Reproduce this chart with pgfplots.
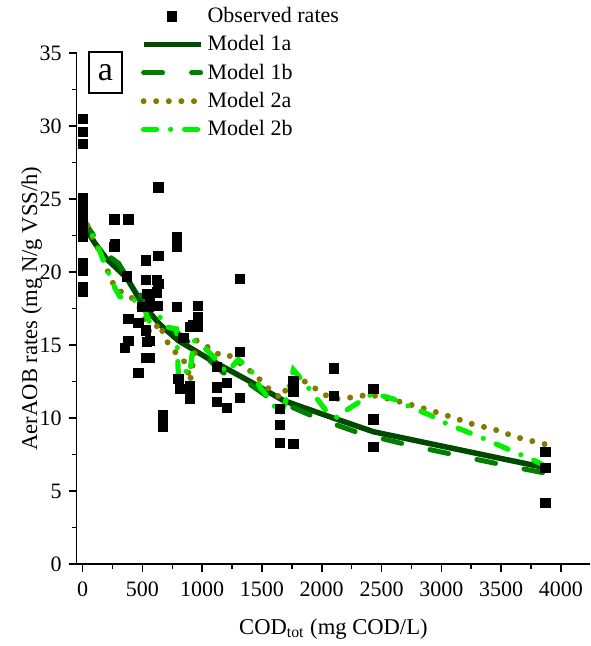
\documentclass[border=0pt]{standalone}
\usepackage{fontspec}
\setmainfont{Liberation Serif}
\usepackage{pgfplots}
\pgfplotsset{compat=1.18}

\definecolor{mOnea}{HTML}{004A00}
\definecolor{mOneb}{HTML}{008000}
\definecolor{mTwoa}{HTML}{857A00}
\definecolor{mTwob}{HTML}{00F000}

\pgfplotsset{
  linelegend/.style={legend image code/.code={\draw[##1] (0pt,0pt) -- (28.5pt,0pt);}},
  marklegend/.style={legend image code/.code={%
    \draw[mark repeat=2,mark phase=2,##1] plot coordinates {(0pt,0pt)(14.25pt,0pt)(28.5pt,0pt)};}},
}

\begin{document}
\begin{tikzpicture}
\begin{axis}[name=ax,
    width=256.7pt, height=255.5pt, scale only axis,
    xmin=-50, xmax=4245, ymin=0, ymax=35,
    axis lines=left, axis line style={-, line width=0.75pt},
    xtick={0,500,...,4000}, ytick={0,5,...,35},
    minor x tick num=1, minor y tick num=1,
    tick align=outside, major tick length=4pt, minor tick length=2.5pt,
    tick style={line width=0.75pt, black},
    scaled ticks=false,
    xticklabel style={/pgf/number format/1000 sep={}, yshift=-1.5pt},
    /pgf/number format/assume math mode=true,
    tick label style={font=\fontsize{11}{13}\selectfont},
    label style={font=\fontsize{11.3}{13}\selectfont},
    xlabel={COD\textsubscript{tot} (mg COD/L)},
    ylabel={AerAOB rates (mg N/g VSS/h)},
    xlabel style={yshift=-4pt},
    ylabel style={yshift=-8pt},
    clip=false,
    legend style={draw=none, fill=none, at={(rel axis cs:0.112,1.106)}, anchor=north west,
      font=\fontsize{11}{13}\selectfont, cells={anchor=west}, row sep=1pt},
    linelegend,
  ]
\addplot[only marks, mark=square*, mark size=2.3pt, black, marklegend]
  coordinates {
  (0,30.5) (0,29.6) (0,28.8) (0,25.05) (0,24.6) (0,24.0) (0,23.5) (0,23.0) (0,22.4)
  (0,20.6) (0,20.1) (0,19.0) (0,18.65)
  (265,23.6) (382,23.6) (265,21.7) (270,21.9) (633,25.8) (786,22.4) (786,21.7)
  (633,21.1) (530,20.8) (368,19.7) (530,19.45) (619,19.45) (633,19.2) (535,18.5)
  (563,18.1) (619,18.6) (494,17.6) (549,17.6) (627,17.7) (786,17.6) (962,17.7)
  (962,16.9) (898,16.25) (962,16.25) (925,16.4) (382,16.8) (466,16.5) (530,16.0)
  (535,15.2) (563,15.3) (382,15.3) (354,14.8) (530,14.1) (563,14.1) (466,13.1)
  (842,15.5) (1316,19.5) (1316,14.5) (1316,11.35) (1121,13.5) (1205,12.4)
  (1121,12.1) (1121,11.1) (1205,10.7) (898,12.2) (898,11.6) (898,11.3) (800,12.7)
  (815,12.0) (669,10.2) (669,9.6) (669,9.4)
  (1652,10.6) (1652,9.5) (1652,8.3) (1763,12.5) (1763,11.8) (1763,8.2)
  (2103,13.4) (2103,11.5) (2432,12.0) (2432,9.9) (2432,8.0)
  (3871,7.7) (3871,6.6) (3871,4.2)
  };
\addlegendentry{Observed rates}
\addplot[mOnea, line width=2.75pt] coordinates {
  (0,23.3) (100,22.0) (200,20.9) (368,19.6) (500,17.8) (647,16.4) (800,15.3)
  (1065,14.0) (1400,12.5) (1679,11.2) (2097,10.0) (2432,9.06) (2962,8.15)
  (3492,7.24) (3870,6.6)
  };
\addlegendentry{Model 1a}
\addplot[mOneb, line width=2.5pt, line cap=round, dash pattern=on 9.5pt off 14.5pt] coordinates {
  (0,23.6) (200,21.2) (300,20.6) (420,19.0) (530,18.0) (650,16.7) (800,15.8)
  (1000,14.4) (1176,13.1) (1400,12.3) (1540,11.5) (1958,10.0) (2321,8.95)
  (2725,8.15) (3116,7.47) (3520,6.78) (3855,6.25)
  };
\addlegendentry{Model 1b}
\addplot[mTwoa, line width=3pt, line cap=round, dash pattern=on 0pt off 6.3pt] coordinates {
  (0,24.0) (75,22.5) (117,21.8) (172,20.9) (200,20.25) (243,19.45) (270,18.9)
  (437,18.1) (494,17.3) (521,16.7) (563,15.8) (647,16.5) (675,15.7) (716,15.1)
  (786,14.4) (870,13.7) (898,12.5) (954,15.3) (1023,15.0) (1121,14.4) (1205,14.4)
  (1358,13.5) (1442,12.95) (1511,12.4) (1581,11.8) (1665,11.35) (1707,12.1)
  (1818,12.7) (1916,12.2) (2000,11.7) (2097,11.3) (2195,11.35) (2293,11.46)
  (2390,11.6) (2488,11.46) (2683,11.05) (2879,10.6) (3073,10.1) (3255,9.6)
  (3450,9.2) (3645,8.65) (3870,8.2)
  };
\addlegendentry{Model 2a}
\addplot[mTwob, line width=2.6pt, line cap=round, dash pattern=on 6.5pt off 7pt on 0pt off 7pt] coordinates {
  (0,24.2) (33,23.2) (89,22.4) (145,21.4) (172,20.8) (243,19.45) (270,18.9)
  (312,18.3) (368,18.2) (466,18.0) (521,17.4) (535,17.05) (563,16.5) (619,16.8)
  (647,16.9) (689,16.25) (786,16.1) (800,13.0) (850,13.5) (880,12.9) (900,13.3)
  (930,15.3) (982,15.1) (1093,14.2) (1205,13.1) (1302,14.0) (1400,13.4)
  (1484,12.1) (1581,11.1) (1651,10.2) (1693,11.0) (1763,13.3) (1846,12.5)
  (1958,11.35) (2055,10.3) (2139,10.0) (2209,10.55) (2306,11.05) (2432,11.7)
  (2599,11.3) (2767,10.65) (2906,10.2) (3046,9.6) (3213,9.06) (3353,8.6)
  (3520,8.0) (3660,7.5) (3743,7.24) (3870,6.7)
  };
\addlegendentry{Model 2b}
\node[draw, line width=0.75pt, inner sep=0pt, minimum width=16.5pt, minimum height=20.5pt,
  font=\fontsize{17}{20}\selectfont] at (rel axis cs:0.056,0.962) {a};
\end{axis}
\pgfresetboundingbox
\path ([shift={(-38.35pt,-41pt)}]ax.south west) rectangle ([shift={(0pt,26.5pt)}]ax.north east);
\end{tikzpicture}
\end{document}
